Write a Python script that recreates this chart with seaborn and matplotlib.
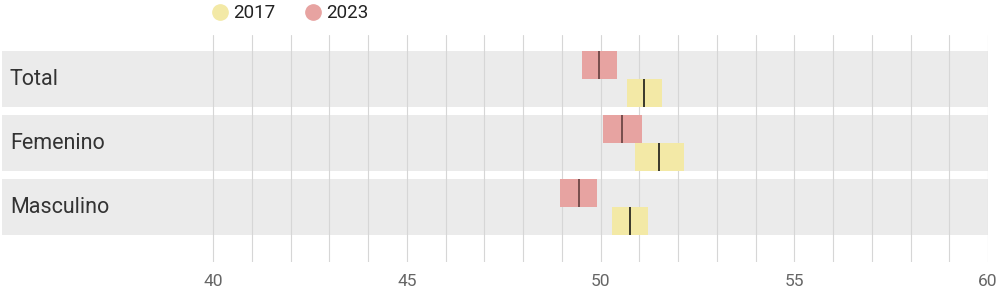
import matplotlib
matplotlib.use("Agg")
import matplotlib.pyplot as plt
import matplotlib.transforms as mtransforms
from matplotlib.lines import Line2D
import seaborn as sns
import pandas as pd

categories = ["Total", "Femenino", "Masculino"]
years = ["2017", "2023"]
mean_2017 = [51.12, 51.51, 50.76]
low_2017 = [50.68, 50.89, 50.30]
high_2017 = [51.59, 52.15, 51.23]
mean_2023 = [49.97, 50.55, 49.45]
low_2023 = [49.52, 50.06, 48.95]
high_2023 = [50.43, 51.07, 49.91]
x_ticks = [40, 45, 50, 55, 60]
x_min, x_max = 34.55, 60

c2017 = "#f3e9a6"
c2023 = "#e7a3a1"
band_col = "#ebebeb"

sns.set_theme(style="white")
plt.rcParams["font.family"] = ["Roboto", "DejaVu Sans"]

fig = plt.figure(figsize=(10, 2.91), dpi=100)
ax = fig.add_axes([0.002, 0.0997, 0.986, 0.78])

bands = pd.DataFrame({"cat": categories, "v": [x_max] * len(categories)})
sns.barplot(data=bands, y="cat", x="v", color=band_col, width=0.875,
            saturation=1, ax=ax, zorder=0, linewidth=0)

for v in range(40, 61):
    ax.axvline(v, color="#d6d6d6", lw=0.8, zorder=1)

half = 0.4375
for i in range(len(categories)):
    ax.barh(i - half / 2, high_2023[i] - low_2023[i], left=low_2023[i],
            height=half, color=c2023, zorder=2, linewidth=0)
    ax.barh(i + half / 2, high_2017[i] - low_2017[i], left=low_2017[i],
            height=half, color=c2017, zorder=2, linewidth=0)
    ax.vlines(mean_2023[i], i - half, i, color="#6e4646", lw=1.3, zorder=3)
    ax.vlines(mean_2017[i], i, i + half, color="#2a2a22", lw=1.3, zorder=3)

ax.set_xlim(x_min, x_max)
ax.set_ylim(2.859, -0.6875)
ax.set_xticks(x_ticks)
ax.set_xticklabels([str(t) for t in x_ticks], color="#666666", fontsize=12.5)
ax.tick_params(axis="x", length=0, pad=9)
ax.set_yticks([])
ax.set_xlabel("")
ax.set_ylabel("")
for s in ax.spines.values():
    s.set_visible(False)

trans = mtransforms.blended_transform_factory(ax.transAxes, ax.transData)
for i, c in enumerate(categories):
    ax.text(0.0081, i, c, transform=trans, ha="left", va="center",
            fontsize=15.5, color="#333333", zorder=4)

handles = [Line2D([], [], marker="o", linestyle="", markersize=11,
                  markerfacecolor=c2017, markeredgecolor=c2017),
           Line2D([], [], marker="o", linestyle="", markersize=11,
                  markerfacecolor=c2023, markeredgecolor=c2023)]
fig.legend(handles, years, loc="center left", bbox_to_anchor=(0.203, 0.955),
           ncol=2, frameon=False, fontsize=13.5, handletextpad=0.2,
           columnspacing=1.5, handlelength=1.0, borderaxespad=0,
           labelcolor="#222222")

fig.savefig("out.png", dpi=100)
